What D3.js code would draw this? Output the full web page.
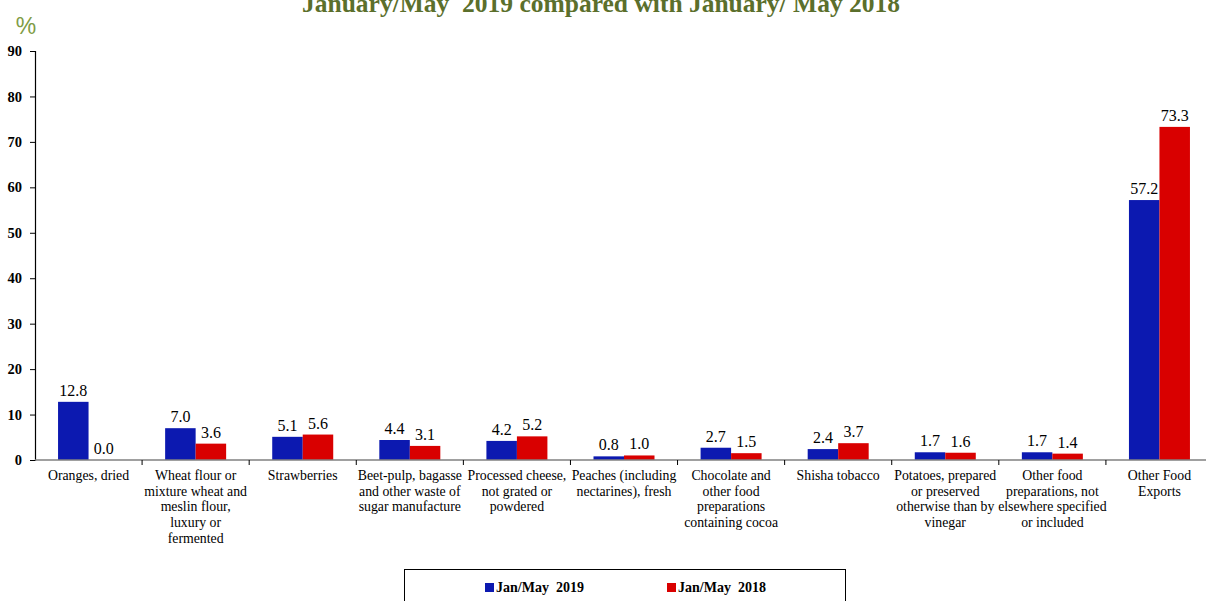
<!DOCTYPE html>
<html><head><meta charset="utf-8">
<script src="https://cdn.jsdelivr.net/npm/d3@7"></script>
<style>body{margin:0;background:#fff;}svg{display:block;} text{white-space:pre;}</style>
</head><body>
<svg id="chart" width="1206" height="601"></svg>
<script>
const categories = [
  ["Oranges, dried"],
  ["Wheat flour or","mixture wheat and","meslin flour,","luxury or","fermented"],
  ["Strawberries"],
  ["Beet-pulp, bagasse","and other waste of","sugar manufacture"],
  ["Processed cheese,","not grated or","powdered"],
  ["Peaches (including","nectarines), fresh"],
  ["Chocolate and","other food","preparations","containing cocoa"],
  ["Shisha tobacco"],
  ["Potatoes, prepared","or preserved","otherwise than by","vinegar"],
  ["Other food","preparations, not","elsewhere specified","or included"],
  ["Other Food","Exports"]
];
const series2019 = [12.8, 7.0, 5.1, 4.4, 4.2, 0.8, 2.7, 2.4, 1.7, 1.7, 57.2];
const series2018 = [0.0, 3.6, 5.6, 3.1, 5.2, 1.0, 1.5, 3.7, 1.6, 1.4, 73.3];
const seriesNames = ["Jan/May  2019", "Jan/May  2018"];
const yTicks = [0,10,20,30,40,50,60,70,80,90];
const colors = ["#0c19b0", "#d90000"];

const svg = d3.select("#chart");
const mLeft = 35, mRight = 1213, mTop = 51, mBottom = 460;
const idx = d3.range(categories.length);
const x = d3.scaleBand().domain(idx).range([mLeft, mRight]).paddingInner(0).paddingOuter(0);
const inner = d3.scaleBand().domain([0,1]).range([0, 61]);
const y = d3.scaleLinear().domain([0, 90]).range([mBottom, mTop]);
const serif = "Liberation Serif, Times New Roman, serif";

// title
svg.append("text").attr("x", 601).attr("y", 12).attr("text-anchor","middle")
  .attr("font-family", serif).attr("font-weight","bold")
  .attr("font-size", 25.5).attr("fill","#5b6f2c")
  .text("January/May  2019 compared with January/ May 2018");
svg.append("text").attr("x", 26).attr("y", 34).attr("text-anchor","middle")
  .attr("font-family","Liberation Sans, Arial, sans-serif")
  .attr("font-size", 23).attr("fill","#7e9c45").text("%");

// y axis
const yAxis = svg.append("g").attr("transform", `translate(${mLeft},0)`)
  .call(d3.axisLeft(y).tickValues(yTicks).tickSize(5).tickPadding(8));
yAxis.select(".domain").attr("stroke","#000").attr("stroke-width",1.2);
yAxis.selectAll(".tick line").attr("stroke","#000");
yAxis.selectAll(".tick text").attr("font-family", serif)
  .attr("font-weight","bold").attr("font-size",14.5).attr("fill","#000");

// bars
const groups = svg.append("g").selectAll("g").data(idx).join("g")
  .attr("transform", i => `translate(${x(i) + (x.bandwidth()-61)/2},0)`);
[series2019, series2018].forEach((s, k) => {
  groups.append("rect")
    .attr("x", inner(k)).attr("width", inner.bandwidth())
    .attr("y", i => y(s[i])).attr("height", i => y(0) - y(s[i]))
    .attr("fill", colors[k]);
  groups.append("text")
    .attr("x", inner(k) + inner.bandwidth()/2)
    .attr("y", i => y(s[i]) - 6)
    .attr("text-anchor","middle")
    .attr("font-family", serif)
    .attr("font-size",16).attr("fill","#000")
    .text(i => s[i].toFixed(1));
});

// x axis
const xAxis = svg.append("g").attr("transform", `translate(0,${mBottom})`);
xAxis.append("line").attr("x1", mLeft).attr("x2", 1206).attr("y1",0).attr("y2",0)
  .attr("stroke","#808080").attr("stroke-width",1.5);
xAxis.selectAll("line.tk").data(idx.slice(1)).join("line").attr("class","tk")
  .attr("x1", i => x(i)).attr("x2", i => x(i)).attr("y1",0).attr("y2",5)
  .attr("stroke","#000");
const labels = xAxis.selectAll("text").data(idx).join("text")
  .attr("text-anchor","middle")
  .attr("font-family", serif)
  .attr("font-size",13.8).attr("fill","#000");
labels.each(function(i){
  const t = d3.select(this);
  categories[i].forEach((ln, j) => {
    t.append("tspan").attr("x", x(i) + x.bandwidth()/2).attr("y", 20 + j*15.7).text(ln);
  });
});

// legend
const lg = svg.append("g");
lg.append("rect").attr("x", 404.5).attr("y", 569.5).attr("width", 441).attr("height", 40)
  .attr("fill","#fff").attr("stroke","#000").attr("stroke-width",1);
const lx = [485, 667];
seriesNames.forEach((n, k) => {
  lg.append("rect").attr("x", lx[k]).attr("y", 583).attr("width", 9).attr("height", 9).attr("fill", colors[k]);
  lg.append("text").attr("x", lx[k] + 11).attr("y", 592)
    .attr("font-family", serif).attr("font-weight","bold")
    .attr("font-size",14).attr("fill","#000").text(n);
});
</script>
</body></html>
